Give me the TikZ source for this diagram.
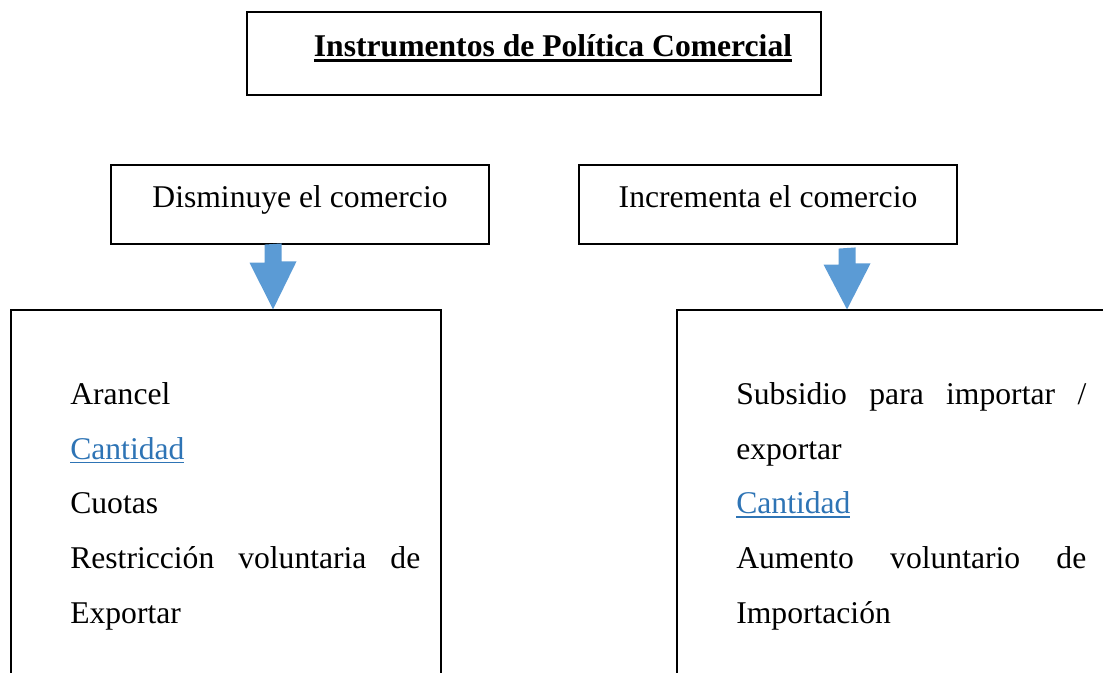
\documentclass[tikz,border=0pt]{standalone}
\usepackage{fontspec}
\setmainfont{Liberation Serif}
\usetikzlibrary{calc}
\definecolor{arrowblue}{RGB}{91,155,213}
\definecolor{linkblue}{RGB}{46,116,181}
% underline with a rule of given thickness and depth
\newcommand{\barul}[3]{\setbox0\hbox{#3}\rlap{\rule[-#2]{\wd0}{#1}}\box0}

\begin{document}
\begin{tikzpicture}
\tikzset{box/.style={draw, rectangle, line width=0.8pt, text height=0.575cm, text depth=0.425cm,
  font=\fontsize{22.5}{27}\selectfont},
  items/.style={inner sep=0pt, anchor=north west, text width=8.75cm, align=justify,
  font=\fontsize{22.5}{39}\selectfont},
  blockarrow/.style={fill=arrowblue}}

\useasboundingbox (0,0) rectangle (27.575,-16.8);
\clip (0,0) rectangle (27.575,-16.8);

% Title
\node[box, minimum width=14.35cm, minimum height=2.075cm] (title) at (13.35,-1.3375)
{\hspace*{0.95cm}\textbf{\barul{2.2pt}{4pt}{Instrumentos de Política Comercial}}};

% Two kinds of instruments
\node[box, minimum width=9.45cm, minimum height=1.975cm] (dis) at (7.5,-5.1125)
{Disminuye el comercio};
\node[box, minimum width=9.45cm, minimum height=1.975cm] (inc) at (19.2,-5.1125)
{Incrementa el comercio};

% Lists
\node[box, minimum width=10.75cm, minimum height=10.25cm] (listL) at (5.65,-12.875) {};
\node[box, minimum width=13.075cm, minimum height=10.25cm] (listR) at (23.4625,-12.875) {};

\node[items] (itemsL) at (1.75,-9.55)
{Arancel\\
{\color{linkblue}\barul{1.2pt}{3pt}{Cantidad}}\\
Cuotas\\
Restricción voluntaria de\linebreak Exportar};
\node[items] (itemsR) at (18.4,-9.55)
{Subsidio para importar /\linebreak exportar\\
{\color{linkblue}\barul{1.2pt}{3pt}{Cantidad}}\\
Aumento voluntario de\linebreak Importación};

% Block arrows
\coordinate (arrL) at (6.825,0);
\coordinate (arrR) at (21.175,0);

\fill[blockarrow] (dis.south -| arrL) ++(-0.2125,0) -- ++(0,-0.45) -- ++(-0.375,0)
  -- (listL.north -| arrL) -- ++(0.5875,1.2) -- ++(-0.375,0) -- ++(0,0.45) -- cycle;
\fill[blockarrow] (inc.south -| arrR) ++(-0.2125,-0.1) -- ++(0,-0.4) -- ++(-0.375,0)
  -- (listR.north -| arrR) -- ++(0.5875,1.15) -- ++(-0.375,0) -- ++(0,0.4) -- cycle;

\end{tikzpicture}
\end{document}
